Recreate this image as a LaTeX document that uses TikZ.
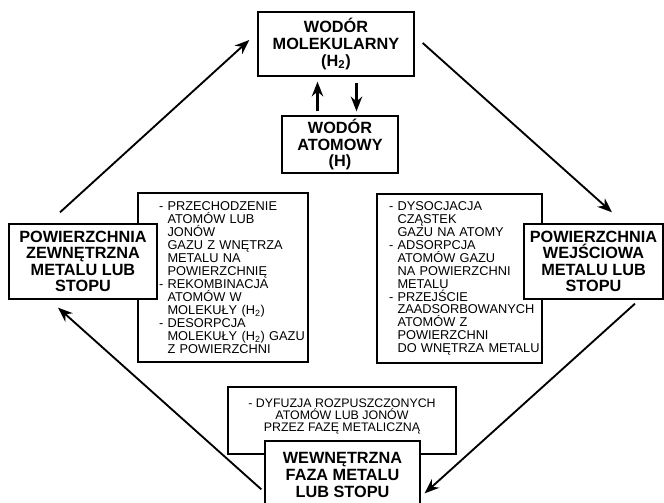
\documentclass[tikz,border=0pt]{standalone}
\usepackage{fontspec}
\setmainfont{Liberation Sans}
\usetikzlibrary{arrows.meta,calc}
\newcommand{\wcp}{\hphantom{- }}

\begin{document}
\begin{tikzpicture}[x=0.75pt,y=0.75pt,yscale=-1,xscale=1,
    ramka/.style={draw,line width=1pt,fill=white,align=center,inner sep=0pt,font=\fontsize{12.2}{12.4}\selectfont\bfseries},
    opis/.style={draw,line width=0.9pt,fill=white,inner sep=0pt,font=\fontsize{9.6}{9.7}\selectfont},
    strzalka/.style={line width=1.4pt,-{Stealth[length=11pt,width=8.5pt]}}]
    \path[use as bounding box,fill=white] (0,0) rectangle (664,503);

    % Text Node
    \node [opis,text width=127.5pt,align=left,minimum height=126.75pt] (opisL) at (223,277.5) {\leftskip=15.75pt
      - PRZECHODZENIE\\ \wcp ATOMÓW LUB\\ \wcp JONÓW\\ \wcp GAZU Z WNĘTRZA\\ \wcp METALU NA\\ \wcp POWIERZCHNIĘ\\
      - REKOMBINACJA\\ \wcp ATOMÓW W\\ \wcp MOLEKUŁY (H\textsubscript{2})\\
      - DESORPCJA\\ \wcp MOLEKUŁY (H\textsubscript{2}) GAZU\\ \wcp Z POWIERZCHNI\par};
    % Text Node
    \node [opis,text width=123.75pt,align=left,minimum height=126.75pt] (opisP) at (459.5,278.5) {\leftskip=9pt
      - DYSOCJACJA\\ \wcp CZĄSTEK\\ \wcp GAZU NA ATOMY\\
      - ADSORPCJA\\ \wcp ATOMÓW GAZU\\ \wcp NA POWIERZCHNI\\ \wcp METALU\\
      - PRZEJŚCIE\\ \wcp ZAADSORBOWANYCH\\ \wcp ATOMÓW Z\\ \wcp POWIERZCHNI\\ \wcp DO WNĘTRZA METALU\par};
    % Text Node
    \node [opis,align=center,minimum width=171pt,minimum height=50.25pt,font=\fontsize{9.3}{9}\selectfont] (opisD) at (342,420.5)
      {- DYFUZJA ROZPUSZCZONYCH\\ ATOMÓW LUB JONÓW\\ PRZEZ FAZĘ METALICZNĄ\rule[-8pt]{0pt}{8pt}};

    %Shape: Rectangle
    \node [ramka,minimum width=111pt,minimum height=56.25pt] (zew) at (83,261.5) {POWIERZCHNIA\\ ZEWNĘTRZNA\\ METALU LUB\\ STOPU};
    %Shape: Rectangle
    \node [ramka,minimum width=104.25pt,minimum height=56.25pt] (wej) at (593.5,261.5) {POWIERZCHNIA\\ WEJŚCIOWA\\ METALU LUB\\ STOPU};
    %Shape: Rectangle
    \node [ramka,minimum width=116.25pt,minimum height=51pt] (wewn) at (342.5,475) {WEWNĘTRZNA\\ FAZA METALU\\ LUB STOPU};
    %Shape: Rectangle
    \node [ramka,minimum width=117pt,minimum height=48pt] (molek) at (336,44) {WODÓR\\ MOLEKULARNY\\ (H\textsubscript{2})};
    %Shape: Rectangle
    \node [ramka,minimum width=87pt,minimum height=42.75pt] (atom) at (340,144.5) {WODÓR\\ ATOMOWY\\ (H)};

    %Straight Lines
    \draw [strzalka,shorten <=12.2pt,shorten >=8.1pt] ($(zew.north)+(-35.1,0)$) -- ($(molek.west)+(0,-11.3)$);
    \draw [strzalka,shorten <=8.1pt,shorten >=12.4pt] ($(molek.east)+(0,-8.2)$) -- ($(wej.north)+(30.8,0)$);
    \draw [strzalka,shorten <=4.5pt,shorten >=4pt] ($(wej.south)+(45.9,0)$) -- ($(wewn.north east)+(0,56.6)$);
    \draw [strzalka,shorten <=3pt,shorten >=9pt] ($(wewn.north west)+(0,51.7)$) -- ($(zew.south)+(-33.9,0)$);
    %Straight Lines
    \draw [strzalka,line width=1.9pt,shorten <=3pt,shorten >=3.75pt] ($(atom.north)+(-22.5,0)$) -- ($(molek.south)+(-18.5,0)$);
    \draw [strzalka,line width=1.9pt,shorten <=4.5pt,shorten >=3pt] ($(molek.south)+(20.5,0)$) -- ($(atom.north)+(16.5,0)$);

\end{tikzpicture}
\end{document}
